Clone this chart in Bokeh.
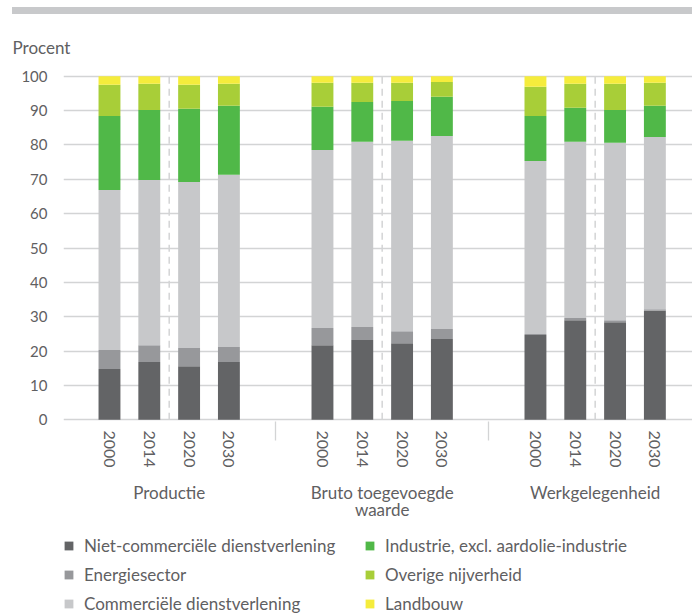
import math
from bokeh.plotting import figure
from bokeh.models import (ColumnDataSource, Range1d, LinearAxis, FixedTicker,
                          Legend, LegendItem, Div)
from bokeh.layouts import column
from bokeh.embed import file_html
from bokeh.resources import INLINE

# ---------------- data ----------------
groups = ["Productie", "Bruto toegevoegde\nwaarde", "Werkgelegenheid"]
years = ["2000", "2014", "2020", "2030"]
sectors = ["Niet-commerciële dienstverlening", "Energiesector",
           "Commerciële dienstverlening", "Industrie, excl. aardolie-industrie",
           "Overige nijverheid", "Landbouw"]
colors = ["#636466", "#97989b", "#c7c8ca", "#50b848", "#a8ce38", "#f5ec3c"]

# shares (%) per bar: Productie 2000..2030, Bruto toegevoegde waarde 2000..2030,
# Werkgelegenheid 2000..2030
niet_commercieel = [14.8, 16.8, 15.6, 16.8, 21.7, 23.2, 22.3, 23.5, 24.7, 29.0, 28.4, 31.7]
energiesector = [5.5, 4.9, 5.3, 4.4, 5.0, 3.8, 3.5, 2.9, 0.3, 0.6, 0.6, 0.5]
commercieel = [46.6, 48.1, 48.3, 50.1, 51.8, 53.9, 55.4, 56.2, 50.3, 51.3, 51.6, 50.1]
industrie = [21.5, 20.4, 21.3, 20.1, 12.6, 11.6, 11.6, 11.4, 13.1, 9.9, 9.6, 9.1]
overige = [9.1, 7.6, 7.0, 6.4, 7.0, 5.6, 5.3, 4.3, 8.5, 7.0, 7.6, 6.7]
landbouw = [2.5, 2.2, 2.5, 2.2, 1.9, 1.9, 1.9, 1.7, 3.1, 2.2, 2.2, 1.9]

y_ticks = [0, 10, 20, 30, 40, 50, 60, 70, 80, 90, 100]

# ---------------- layout constants ----------------
GROUP_STEP = 107
BAR_STEP = 20
BAR_W = 11
TEXT = "#5f6062"
GRID = "#d3d4d5"
FONT = "Lato"
W = 692

xs = [g * GROUP_STEP + int((i - 1.5) * BAR_STEP)
      for g in range(len(groups)) for i in range(len(years))]
year_labels = [yr for g in groups for yr in years]
group_centers = [g * GROUP_STEP for g in range(len(groups))]
boundaries = [g * GROUP_STEP + GROUP_STEP / 2 for g in range(len(groups) - 1)]

keys = ["niet", "energie", "comm", "ind", "overig", "land"]
src = ColumnDataSource(dict(x=xs, niet=niet_commercieel, energie=energiesector,
                            comm=commercieel, ind=industrie, overig=overige,
                            land=landbouw))

p = figure(width=W, height=517, output_backend="svg", toolbar_location=None,
           x_range=Range1d(-53.1, 262.9), y_range=Range1d(-0.5, 100.5),
           x_axis_type=None, min_border_left=63, min_border_right=0,
           min_border_top=60, min_border_bottom=110,
           outline_line_color=None, background_fill_color="white",
           border_fill_color="white")

# grid / y axis
p.yaxis.ticker = FixedTicker(ticks=y_ticks)
p.ygrid.ticker = FixedTicker(ticks=y_ticks)
p.ygrid.grid_line_color = GRID
p.ygrid.grid_line_width = 1.3
p.yaxis.axis_line_color = None
p.yaxis.major_tick_line_color = None
p.yaxis.minor_tick_line_color = None
p.yaxis.major_label_standoff = 10
p.yaxis.major_label_text_font = FONT
p.yaxis.major_label_text_font_size = "15px"
p.yaxis.major_label_text_color = TEXT

# dashed separators inside each group
p.segment(x0=group_centers, y0=[0] * len(groups), x1=group_centers,
          y1=[100] * len(groups), line_color=GRID, line_width=1.5,
          line_dash="7 5")

rs = p.vbar_stack(keys, x="x", width=BAR_W, source=src,
                  fill_color=colors, line_color=None)

# year axis
year_axis = LinearAxis(
    ticker=FixedTicker(ticks=xs, minor_ticks=boundaries),
    major_label_overrides={x: lab for x, lab in zip(xs, year_labels)},
    major_label_orientation=-math.pi / 2,
    major_label_standoff=-10,
    major_tick_line_color=None,
    minor_tick_in=0, minor_tick_out=19,
    minor_tick_line_color=GRID, minor_tick_line_width=1.3,
    axis_line_color=None,
    major_label_text_font=FONT, major_label_text_font_size="16px",
    major_label_text_color=TEXT)
p.add_layout(year_axis, "below")

# group axis
group_axis = LinearAxis(
    ticker=FixedTicker(ticks=group_centers, minor_ticks=[]),
    major_label_overrides={x: lab for x, lab in zip(group_centers, groups)},
    major_label_standoff=5,
    major_tick_line_color=None, minor_tick_line_color=None,
    axis_line_color=None,
    major_label_text_font=FONT, major_label_text_font_size="17px",
    major_label_text_line_height=0.85,
    major_label_text_color=TEXT)
p.add_layout(group_axis, "below")

p.title.text = "Procent"
p.title.align = "left"
p.title.offset = -51
p.title.standoff = 34
p.title.text_font = FONT
p.title.text_font_size = "17px"
p.title.text_font_style = "normal"
p.title.text_color = TEXT

# legend in its own strip below the chart (swatch bars lie outside its view)
lg = figure(width=W, height=84, output_backend="svg", toolbar_location=None,
            x_range=Range1d(-53.1, 262.9), y_range=Range1d(200, 300),
            x_axis_type=None, y_axis_type=None, min_border_left=62,
            min_border_top=4, min_border_right=0, min_border_bottom=0,
            outline_line_color=None, background_fill_color="white",
            border_fill_color="white")
lg.grid.visible = False
swatches = lg.vbar_stack(keys, x="x", width=BAR_W, source=src,
                         fill_color=colors, line_color=None)
legend = Legend(items=[LegendItem(label=s, renderers=[r]) for s, r in zip(sectors, swatches)],
                location="top_left", orientation="vertical", nrows=3,
                glyph_width=11, glyph_height=11, label_standoff=10,
                label_width=272, label_height=20, spacing=8, padding=0, margin=0,
                border_line_color=None, background_fill_alpha=0,
                label_text_font=FONT, label_text_font_size="17px",
                label_text_color=TEXT)
lg.add_layout(legend, "center")

bar = Div(text="", width=W - 12, height=7, margin=(7, 0, 0, 12),
          styles={"background-color": "#c8c9cb"})

layout = column(bar, p, lg, spacing=0)
open("out.html", "w").write(file_html(layout, INLINE))
